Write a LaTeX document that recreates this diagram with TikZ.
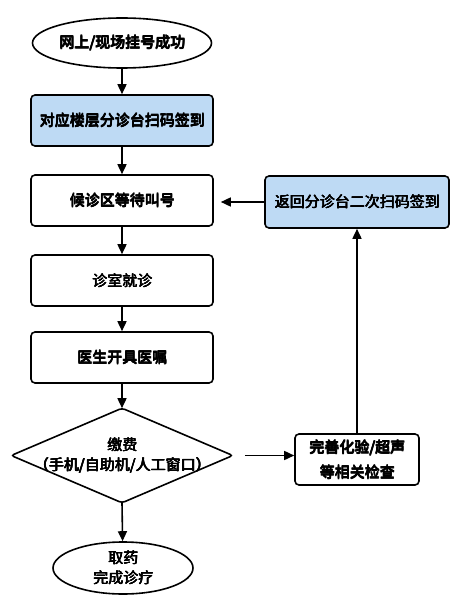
\documentclass[tikz,border=0pt]{standalone}
\usepackage{fontspec}
\newfontfamily\cjk{Noto Sans CJK SC}
\newcommand\bb[1]{\leavevmode\rlap{\kern0.7pt#1}\rlap{\kern0.7pt\raisebox{0.5pt}{#1}}\rlap{\raisebox{0.5pt}{#1}}\rlap{\kern0.35pt\raisebox{0.25pt}{#1}}#1}
\usetikzlibrary{shapes.geometric,arrows.meta}
\definecolor{lightblue}{RGB}{190,218,244}
\tikzset{
  base/.style={draw=black, line width=1.6pt, font=\cjk\fontsize{15}{20}\selectfont, align=center, inner sep=0pt},
  procbox/.style={base, rectangle, rounded corners=4pt, minimum width=182pt, minimum height=51pt, fill=white},
  bluebox/.style={procbox, fill=lightblue},
  term/.style={base, ellipse, fill=white},
  decide/.style={base, draw=none, rectangle, minimum width=220pt, minimum height=93pt},
  decideline/.style={draw=black, line width=1.6pt, rounded corners=3pt},
  flow/.style={line width=1.6pt, -{Triangle[length=10pt,width=9pt]}}
}
\begin{document}
\begin{tikzpicture}[x=1pt,y=-1pt]
\useasboundingbox (0,0) rectangle (458,601);
\node[term, minimum width=179pt, minimum height=50pt] (start) at (122,43) {\bb{网上/现场挂号成功}};
\node[bluebox] (scan) at (122,120.5) {\bb{对应楼层分诊台扫码签到}};
\node[procbox] (wait) at (122,200.5) {\bb{候诊区等待叫号}};
\node[procbox] (visit) at (122,280.5) {\bb{诊室就诊}};
\node[procbox] (order) at (122,357.5) {\bb{医生开具医嘱}};
\node[decide] (pay) at (122,455.5) {\bb{缴费}\\\bb{（手机/自助机/人工窗口）}};
\draw[decideline] (pay.north) -- (pay.east) -- (pay.south) -- (pay.west) -- cycle;
\node[term, minimum width=140pt, minimum height=52pt] (end) at (123,568) {\bb{取药}\\\bb{完成诊疗}};
\node[bluebox, minimum width=184pt, minimum height=52pt] (back) at (357,202) {\bb{返回分诊台二次扫码签到}};
\node[procbox, minimum width=124pt, minimum height=51pt, font=\cjk\fontsize{15}{25}\selectfont] (check) at (357,459.5) {\bb{完善化验/超声}\\\bb{等相关检查}};
\draw[flow] (start) -- (scan);
\draw[flow] (scan) -- (wait);
\draw[flow] (wait) -- (visit);
\draw[flow] (visit) -- (order);
\draw[flow] (order) -- (pay.north);
\draw[flow] (pay.south) -- (end);
\draw[flow, shorten <=12pt] (pay.east) -- (check.west |- pay.east);
\draw[flow] (check) -- (back);
\draw[flow, shorten >=7pt] (back.west) -- (wait.east |- back.west);
\end{tikzpicture}
\end{document}
